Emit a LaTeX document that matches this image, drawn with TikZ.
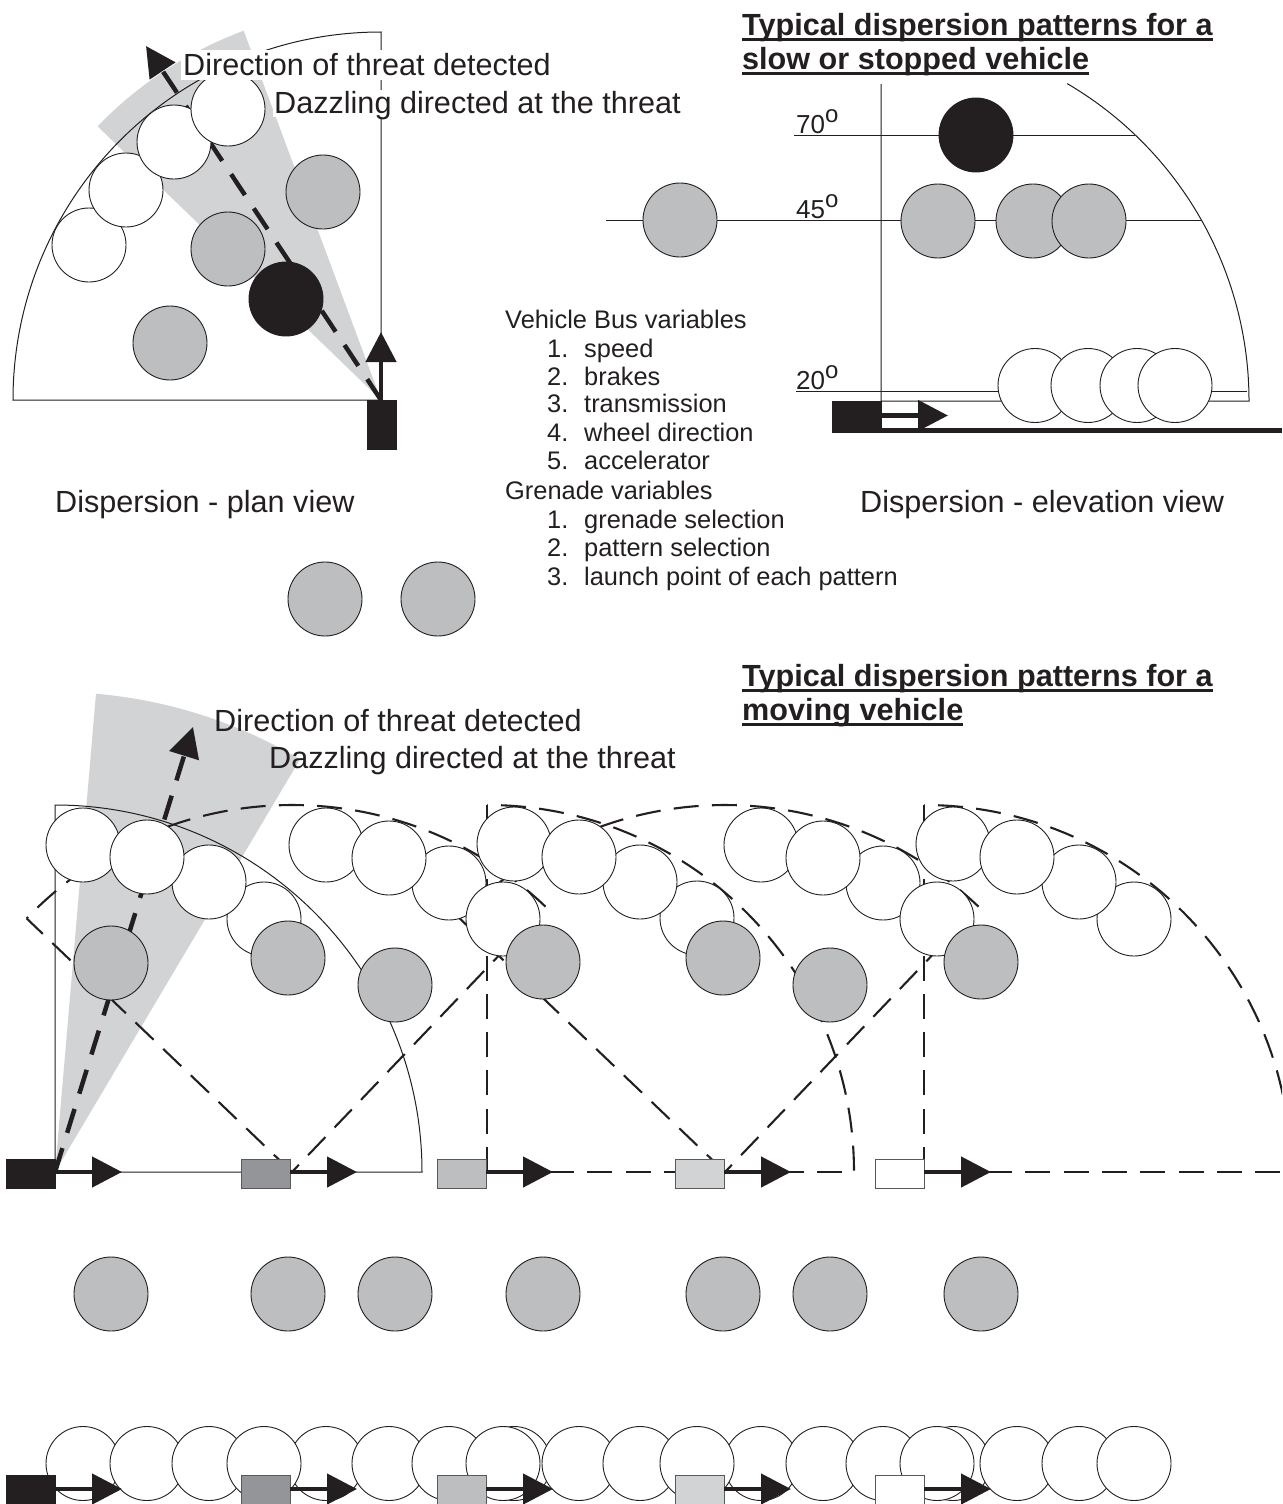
\documentclass[tikz,border=0pt]{standalone}
\usepackage{fontspec}
\setmainfont{Liberation Sans}
\usetikzlibrary{arrows.meta}
\definecolor{ink}{HTML}{231F20}
\definecolor{midgrey}{HTML}{BCBEC0}
\definecolor{lightgrey}{HTML}{D1D3D4}
\definecolor{darkgrey}{HTML}{939598}
\definecolor{edgegrey}{HTML}{58595B}
\newcommand{\ulined}[1]{\setbox0=\hbox{#1}\hbox{\rlap{\copy0}\rule[-5.6pt]{\wd0}{2.7pt}}}
\newcommand{\degsup}{\raisebox{11pt}{\fontsize{24}{24}\selectfont o}}
\tikzset{
  disc/.style={circle,draw=ink,line width=0.9pt,minimum size=74pt,inner sep=0pt},
  whitedisc/.style={disc,fill=white},
  greydisc/.style={disc,fill=midgrey},
  blackdisc/.style={disc,fill=ink},
  bigtext/.style={anchor=base west,inner sep=0pt,text=ink,font=\fontsize{30.6}{36}\selectfont},
  listtext/.style={anchor=base west,inner sep=0pt,text=ink,font=\fontsize{25.4}{30}\selectfont},
  degtext/.style={anchor=base west,inner sep=0pt,text=ink,font=\fontsize{26}{30}\selectfont},
  titletext/.style={anchor=base west,inner sep=0pt,text=ink,font=\bfseries\fontsize{30.6}{36}\selectfont},
  thin line/.style={draw=ink,line width=1pt},
  fan/.style={draw=ink,line width=2.1pt,dash pattern=on 25pt off 13.3pt},
  fan arc/.style={fan,dash phase=24.3pt},
  fan right/.style={fan,dash phase=15pt},
  bold dash/.style={draw=ink,line width=4.5pt,dash pattern=on 25pt off 16pt,-{Triangle[length=30pt,width=30pt]}},
  bold arrow/.style={draw=ink,line width=4.7pt,-{Triangle[length=30pt,width=30pt]}},
  car/.style={rectangle,draw=edgegrey,line width=0.9pt,minimum width=49pt,minimum height=29pt,inner sep=0pt},
  wedge/.style={fill=lightgrey,draw=none},
}
\begin{document}
\begin{tikzpicture}[x=1pt,y=1pt,yscale=-1]
\useasboundingbox (0,0) rectangle (1282,1504);
\clip (0,0) rectangle (1282,1504);

% ---------- plan view ----------
\fill[wedge] (381,400) -- ++(224:394) arc[start angle=224,end angle=249.6,radius=394] -- cycle;
\draw[thin line] (13,400) arc[start angle=180,end angle=270,radius=368] -- (381,400) -- cycle;
\node[car,fill=ink,draw=ink,minimum width=29pt,minimum height=49pt] (planCar) at (381.5,424.5) {};
\coordinate (planApex) at (381,400);
\coordinate (planThreat) at (146,46);
\coordinate (planHead) at (381,332);
\draw[bold dash] (planApex) -- (planThreat);
\draw[bold arrow] (planApex) -- (planHead);
\foreach \n/\x/\y in {a/89/245,b/126/190,c/174/142,d/228/109}
  \node[whitedisc] (plan\n) at (\x,\y) {};
\foreach \n/\x/\y in {e/323/192,f/228/249,g/170/343}
  \node[greydisc] (plan\n) at (\x,\y) {};
\node[blackdisc] (planh) at (286,299) {};
\fill[white] (181,50) rectangle (552,80);
\fill[white] (273,90) rectangle (682,117);
\node[bigtext] (planDir) at (183,75.5) {Direction of threat detected};
\node[bigtext] (planDaz) at (274,113.5) {Dazzling directed at the threat};
\node[bigtext] (planCap) at (55,512.5) {Dispersion - plan view};
\node[greydisc] (spareA) at (325,599) {};
\node[greydisc] (spareB) at (438,599) {};

% ---------- elevation view ----------
\node[titletext] (titleA) at (742,35.5) {\ulined{Typical dispersion patterns for a}};
\node[titletext] (titleB) at (742,69.5) {\ulined{slow or stopped vehicle}};
\draw[thin line] (881,84) -- (881,401) -- (1249,401) arc[start angle=0,end angle=-59.6,radius=368];
\draw[thin line] (794,135) -- (1135,135);
\draw[thin line] (606,220) -- (1201,220);
\draw[thin line] (796,391) -- (1247,391);
\node[degtext] (degA) at (796,133) {70\degsup};
\node[degtext] (degB) at (796,218) {45\degsup};
\node[degtext] (degC) at (796,389) {20\degsup};
\node[greydisc] (elA) at (680,220) {};
\node[blackdisc] (elB) at (976,135) {};
\node[greydisc] (elC) at (938,221) {};
\node[greydisc] (elD) at (1033,221) {};
\node[greydisc] (elE) at (1089,221) {};
\foreach \n/\x in {F/1035,G/1088,H/1137,I/1175}
  \node[whitedisc] (el\n) at (\x,385.5) {};
\fill[ink] (832,428) rectangle (1282,432.5);
\node[car,fill=ink,draw=ink,minimum width=49pt,minimum height=30pt] (elCar) at (856.5,416.5) {};
\coordinate (elTip) at (948,415.5);
\draw[bold arrow] (elCar.east |- elTip) -- (elTip);
\node[bigtext] (elCap) at (860,512.5) {Dispersion - elevation view};

% ---------- variables ----------
\node[listtext] (vb) at (505,328) {Vehicle Bus variables};
\foreach \k/\n/\y/\t in {a/1./357/speed,b/2./385/brakes,c/3./412/transmission,d/4./441/wheel direction,e/5./469/accelerator,f/1./528/grenade selection,g/2./556/pattern selection,h/3./585/launch point of each pattern}{
  \node[listtext] (num\k) at (547,\y) {\n};
  \node[listtext] (item\k) at (584,\y) {\t};
}
\node[listtext] (gv) at (505,499) {Grenade variables};

% ---------- moving vehicle ----------
\node[titletext] (titleC) at (742,686.5) {\ulined{Typical dispersion patterns for a}};
\node[titletext] (titleD) at (742,720.5) {\ulined{moving vehicle}};
\fill[wedge] (55,1172) -- ++(274.9:480) arc[start angle=274.9,end angle=300.7,radius=480] -- cycle;
\node[bigtext] (movDir) at (214,731.5) {Direction of threat detected};
\node[bigtext] (movDaz) at (269,768.5) {Dazzling directed at the threat};
\coordinate (apexA) at (55,1172);
\coordinate (threatA) at (193,727);
% fans
\draw[thin line] (55,805) arc[start angle=270,end angle=360,radius=367] -- (55,1172) -- cycle;
\foreach \ax in {292,725}{
  \draw[fan] (\ax,1172) -- ++(223.7:367);
  \draw[fan right] (\ax,1172) -- ++(313.7:367);
  \draw[fan] (\ax,1172) ++(313.7:367) arc[start angle=313.7,end angle=223.7,radius=367];
}
\foreach \ax in {487,924}{
  \draw[fan] (\ax,1172) -- (\ax,805);
  \draw[fan arc] (\ax,805) arc[start angle=270,end angle=360,radius=367];
}
\draw[fan] (549,1172) -- (854,1172);
\draw[fan] (987,1172) -- (1282,1172);
\draw[bold dash] (apexA) -- (threatA);
% discs of the moving-vehicle pattern
\foreach \n/\x/\y in {a/83/845,d/264/919,c/209/882,b/147/857,
                      e/326/845,g/449/883,f/389/858,h/503/919,
                      i/514/844,l/697/918,k/640/882,j/579/857,
                      m/761/845,o/883/883,n/823/858,p/937/919,
                      q/953/844,t/1134/919,s/1079/882,r/1017/857}
  \node[whitedisc] (mov\n) at (\x,\y) {};
\foreach \n/\x/\y in {u/111/963,v/288/958,w/395/985,x/543/962,y/723/958,z/830/985,A/981/962}
  \node[greydisc] (mov\n) at (\x,\y) {};
% vehicles
\foreach \n/\x/\f/\d in {A/30.5/ink/ink,B/265.5/darkgrey/edgegrey,C/461.5/midgrey/edgegrey,D/699.5/lightgrey/edgegrey,E/899.5/white/edgegrey}
  \node[car,fill=\f,draw=\d] (car\n) at (\x,1173.5) {};
\foreach \n/\t in {A/122,B/357,C/553,D/791,E/991}{
  \coordinate (tip\n) at (\t,1172);
  \draw[bold arrow] (car\n.east |- tip\n) -- (tip\n);
}
% ---------- grey row ----------
\foreach \n/\x in {a/111,b/288,c/395,d/543,e/723,f/830,g/981}
  \node[greydisc] (row\n) at (\x,1294) {};
% ---------- white row ----------
\foreach \n/\x in {a/83,b/147,c/209,d/326,e/264,f/389,g/449,h/514,i/503,j/579,k/640,l/761,m/697,n/823,o/883,p/953,q/937,r/1017,s/1079,t/1134}
  \node[whitedisc] (low\n) at (\x,1463.5) {};
\foreach \n/\x/\f/\d in {A/30.5/ink/ink,B/265.5/darkgrey/edgegrey,C/461.5/midgrey/edgegrey,D/699.5/lightgrey/edgegrey,E/899.5/white/edgegrey}
  \node[car,fill=\f,draw=\d] (lowcar\n) at (\x,1489.5) {};
\foreach \n/\t in {A/122,B/357,C/553,D/791,E/991}{
  \coordinate (lowtip\n) at (\t,1489);
  \draw[bold arrow] (lowcar\n.east |- lowtip\n) -- (lowtip\n);
}
\end{tikzpicture}
\end{document}
